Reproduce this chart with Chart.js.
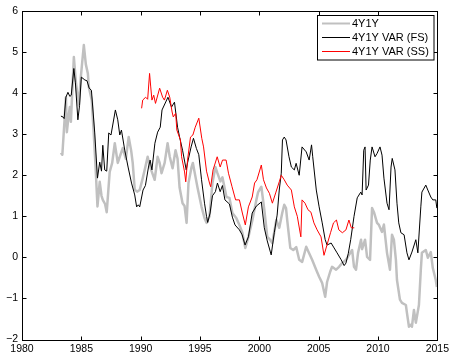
<!DOCTYPE html>
<html>
<head>
<meta charset="utf-8">
<script src="https://cdn.jsdelivr.net/npm/chart.js@4.4.1/dist/chart.umd.min.js"></script>
<style>
  html, body { margin: 0; padding: 0; background: #fff; }
  #wrap { width: 452px; height: 354px; }
</style>
</head>
<body>
<div id="wrap"><canvas id="grafico"></canvas></div>
<script>
// 4Y1Y (gray)
const anosSpot = [1983.28,1983.4,1983.62,1983.7,1983.78,1983.95,1984.03,1984.12,1984.37,1984.54,1984.79,1984.96,
  1985.21,1985.38,1985.55,1985.63,1985.88,1986.05,1986.2,1986.36,1986.55,1986.7,1986.81,1987.0,1987.14,1987.39,
  1987.6,1987.82,1988.07,1988.3,1988.49,1988.75,1988.99,1989.2,1989.33,1989.5,1989.7,1989.92,1990.15,1990.34,
  1990.59,1990.75,1990.92,1991.18,1991.43,1991.6,1991.76,1992.02,1992.27,1992.45,1992.69,1992.94,1993.11,1993.28,
  1993.53,1993.7,1993.87,1994.03,1994.29,1994.4,1994.62,1994.79,1995.13,1995.38,1995.55,1995.8,1996.05,1996.3,
  1996.47,1996.72,1996.89,1997.23,1997.48,1997.73,1998.07,1998.32,1998.57,1998.82,1999.08,1999.41,1999.75,1999.9,
  2000.17,2000.42,2000.67,2000.85,2001.09,2001.26,2001.43,2001.68,2001.93,2002.1,2002.25,2002.35,2002.61,2002.86,
  2003.11,2003.36,2003.61,2003.95,2004.12,2004.45,2004.79,2005.04,2005.29,2005.55,2005.71,2005.97,2006.13,2006.47,
  2006.72,2006.97,2007.31,2007.56,2007.82,2007.98,2008.15,2008.32,2008.57,2008.66,2008.91,2009.08,2009.33,2009.5,
  2009.66,2009.92,2010.08,2010.34,2010.5,2010.76,2011.01,2011.18,2011.34,2011.51,2011.6,2011.85,2012.02,2012.35,
  2012.44,2012.61,2012.77,2012.86,2013.03,2013.19,2013.45,2013.61,2013.7,2014.03,2014.2,2014.45,2014.62,2014.87,2014.96];
const valoresSpot = [2.55,2.5,3.5,3.9,3.05,3.5,3.66,3.3,4.88,4.27,3.7,4.4,
  5.17,4.7,4.48,4.15,3.83,3.0,2.2,1.24,1.84,1.5,1.4,1.3,1.1,2.08,
  2.3,2.78,2.3,2.5,2.66,2.4,2.93,2.6,2.3,1.65,1.6,1.64,1.9,2.13,
  2.45,2.25,2.1,1.89,2.45,2.3,2.05,2.3,2.78,2.45,2.17,2.61,2.4,1.7,
  1.32,1.25,0.84,1.81,2.2,2.3,1.96,1.7,1.23,0.96,0.84,1.0,1.81,2.2,
  2.05,1.85,1.95,1.47,1.45,1.08,0.95,0.79,0.6,0.23,0.5,0.9,1.4,1.59,
  1.72,1.16,0.5,0.45,0.35,0.62,0.91,0.72,1.08,1.28,1.2,0.91,0.23,0.18,
  0.25,-0.06,-0.11,0.26,0.15,-0.06,-0.3,-0.47,-0.62,-0.96,-0.6,-0.35,-0.23,-0.3,
  -0.23,-0.14,-0.06,0.06,0.18,-0.23,-0.3,0.11,0.43,0.2,0.43,0.01,-0.06,1.2,
  1.1,0.84,0.79,0.62,0.8,0.11,-0.3,0.55,0.43,-0.06,-0.55,-1.03,-1.11,-1.16,
  -1.35,-1.69,-1.64,-1.69,-1.28,-1.59,-1.16,-0.3,0.11,0.18,-0.01,0.13,-0.26,-0.55,-0.72];

// 4Y1Y VAR (FS) (black)
const anosFS = [1983.28,1983.45,1983.55,1983.7,1983.87,1984.03,1984.15,1984.37,1984.5,1984.71,1984.85,1985.0,
  1985.3,1985.48,1985.66,1985.85,1986.13,1986.36,1986.55,1986.7,1986.81,1986.97,1987.14,1987.31,1987.5,1987.87,
  1988.07,1988.24,1988.38,1988.66,1988.94,1989.23,1989.5,1989.66,1989.8,1989.92,1990.2,1990.4,1990.66,1990.8,
  1990.95,1991.2,1991.43,1991.65,1991.8,1992.3,1992.6,1992.85,1993.11,1993.28,1993.53,1993.84,1993.95,1994.25,
  1994.45,1994.7,1994.9,1995.13,1995.38,1995.55,1995.65,1995.85,1996.05,1996.3,1996.47,1996.7,1996.89,1997.1,
  1997.48,1997.73,1997.95,1998.32,1998.55,1998.8,1999.08,1999.4,1999.75,2000.17,2000.42,2000.67,2001.0,2001.26,
  2001.5,2001.68,2001.85,2001.95,2002.1,2002.25,2002.5,2002.7,2002.95,2003.1,2003.36,2003.6,2003.95,2004.2,
  2004.4,2004.5,2004.8,2005.04,2005.3,2005.55,2005.71,2006.05,2006.3,2006.55,2006.9,2007.15,2007.3,2007.5,
  2007.7,2007.98,2008.25,2008.55,2008.66,2008.8,2008.91,2009.0,2009.2,2009.35,2009.5,2009.75,2009.92,2010.17,
  2010.34,2010.5,2010.76,2010.93,2011.1,2011.2,2011.43,2011.6,2011.75,2011.93,2012.2,2012.44,2012.61,2012.86,
  2013.19,2013.36,2013.61,2013.7,2014.03,2014.2,2014.45,2014.62,2014.87,2014.96];
const valoresFS = [3.44,3.42,3.38,3.9,4.02,3.92,3.95,4.6,4.25,3.35,3.7,4.39,
  4.32,4.3,4.12,4.07,3.03,1.93,2.32,2.1,2.73,2.13,2.1,3.03,2.98,3.59,
  3.35,2.98,3.1,2.61,2.2,1.81,1.52,1.23,1.28,1.23,1.64,1.75,2.2,2.37,
  2.13,2.78,3.05,3.17,3.59,3.9,3.66,3.78,3.17,2.93,2.61,2.13,2.3,2.69,
  2.9,2.65,2.5,1.89,1.32,1.0,0.85,1.08,1.5,1.6,1.81,1.6,1.75,1.4,
  1.3,0.98,0.79,0.67,0.55,0.3,0.5,1.08,1.25,1.35,0.72,0.4,0.06,0.6,
  1.03,1.64,2.05,2.86,2.93,2.86,2.45,2.2,2.13,2.29,2.0,2.69,2.57,2.37,
  2.74,2.45,1.64,1.23,0.84,0.43,0.3,0.35,0.23,0.11,-0.06,-0.2,-0.14,0.1,
  0.43,1.0,1.45,1.59,1.52,2.61,2.69,1.64,1.76,2.37,2.69,2.45,2.53,2.69,
  2.49,1.93,1.32,1.16,2.2,2.41,2.13,1.32,0.84,0.6,0.55,0.11,-0.06,0.13,
  0.43,0.11,1.23,1.59,1.76,1.64,1.47,1.4,1.4,1.2];

// 4Y1Y VAR (SS) (red)
const anosSS = [1990.08,1990.17,1990.42,1990.59,1990.75,1990.85,1990.95,1991.1,1991.25,1991.6,1991.85,1992.0,
  1992.25,1992.45,1992.65,1992.75,1992.95,1993.05,1993.35,1993.45,1993.7,1993.8,1993.95,1994.2,1994.4,1994.6,
  1994.9,1995.15,1995.3,1995.55,1995.8,1995.9,1996.1,1996.45,1996.7,1996.9,1997.2,1997.4,1997.7,1998.0,
  1998.32,1998.57,1998.82,1999.08,1999.4,1999.6,1999.8,2000.17,2000.35,2000.6,2000.85,2001.1,2001.4,2001.68,
  2001.85,2002.1,2002.35,2002.7,2002.95,2003.2,2003.5,2003.6,2003.85,2004.1,2004.35,2004.6,2004.87,2005.2,
  2005.45,2005.7,2006.0,2006.25,2006.5,2006.7,2007.0,2007.3,2007.55,2007.75,2008.0];
const valoresSS = [3.63,3.83,3.9,3.85,4.48,4.15,3.83,3.95,3.75,4.12,3.9,3.83,
  4.07,3.9,3.54,3.42,3.51,3.1,2.86,2.45,2.08,1.84,2.37,2.93,2.98,3.17,
  3.39,2.9,2.69,2.1,1.81,1.72,2.13,2.45,2.2,2.37,2.37,2.05,1.72,1.4,
  1.4,1.08,0.79,1.23,1.47,1.81,1.89,2.25,1.89,1.69,1.56,1.32,1.59,1.84,
  2.0,1.89,1.76,1.64,1.23,1.0,0.5,1.4,1.32,1.16,1.1,0.84,0.67,0.5,
  0.05,0.3,0.6,0.84,0.91,0.67,0.6,0.67,0.91,0.72,0.72];

const nomes = ["4Y1Y", "4Y1Y VAR (FS)", "4Y1Y VAR (SS)"];
const cores = ["#c0c0c0", "#000000", "#ff0000"];
const ticksAno = [1980, 1985, 1990, 1995, 2000, 2005, 2010, 2015];
const ticksValor = [-2, -1, 0, 1, 2, 3, 4, 5, 6];

const fonte = "'Liberation Sans', Arial, Helvetica, sans-serif";

function montarPontos(anos, valores) {
    return anos.map((a, i) => ({ x: a, y: valores[i] }));
}

// moldura com ticks para dentro (estilo matlab) + legenda
const moldura = {
    id: "moldura",
    afterDatasetsDraw(chart) {
        const { ctx, chartArea: a, scales } = chart;
        ctx.save();
        ctx.strokeStyle = "#000";
        ctx.lineWidth = 1;
        const L = Math.round(a.left) + 0.5, R = Math.round(a.right) + 0.5;
        const T = Math.round(a.top) + 0.5, B = Math.round(a.bottom) + 0.5;
        ctx.strokeRect(L, T, R - L, B - T);
        ctx.beginPath();
        ticksAno.forEach(v => {
            const x = Math.round(scales.x.getPixelForValue(v)) + 0.5;
            ctx.moveTo(x, B); ctx.lineTo(x, B - 4);
            ctx.moveTo(x, T); ctx.lineTo(x, T + 4);
        });
        ticksValor.forEach(v => {
            const y = Math.round(scales.y.getPixelForValue(v)) + 0.5;
            ctx.moveTo(L, y); ctx.lineTo(L + 4, y);
            ctx.moveTo(R, y); ctx.lineTo(R - 4, y);
        });
        ctx.stroke();

        // legenda
        const lx = 317.5, ly = 15.5, lw = 116.5, lh = 44.5;
        ctx.fillStyle = "#fff";
        ctx.fillRect(lx, ly, lw, lh);
        ctx.strokeStyle = "#000";
        ctx.strokeRect(lx, ly, lw, lh);
        ctx.font = "11px " + fonte;
        ctx.textBaseline = "middle";
        ctx.textAlign = "left";
        const linhasY = [23.5, 37.5, 51.5];
        nomes.forEach((nome, i) => {
            ctx.beginPath();
            ctx.strokeStyle = cores[i];
            ctx.lineWidth = i === 0 ? 2 : 1;
            ctx.moveTo(322, linhasY[i]);
            ctx.lineTo(350, linhasY[i]);
            ctx.stroke();
            ctx.fillStyle = "#000";
            ctx.fillText(nome, 352, linhasY[i] + 0.5);
        });
        ctx.restore();
    }
};

new Chart(document.getElementById("grafico"), {
    type: "line",
    data: {
        datasets: [
            {
                label: nomes[0],
                data: montarPontos(anosSpot, valoresSpot),
                borderColor: cores[0],
                borderWidth: 2.5,
                order: 2
            },
            {
                label: nomes[1],
                data: montarPontos(anosFS, valoresFS),
                borderColor: cores[1],
                borderWidth: 1,
                order: 1
            },
            {
                label: nomes[2],
                data: montarPontos(anosSS, valoresSS),
                borderColor: cores[2],
                borderWidth: 1,
                order: 0
            }
        ]
    },
    options: {
        responsive: true,
        maintainAspectRatio: false,
        animation: false,
        elements: {
            point: { radius: 0 },
            line: { tension: 0, borderJoinStyle: "round" }
        },
        layout: { padding: { top: 11, right: 14, left: 0, bottom: 0 } },
        plugins: {
            legend: { display: false },
            tooltip: { enabled: false }
        },
        scales: {
            x: {
                type: "linear",
                min: 1980,
                max: 2015,
                afterFit: s => { s.height = 14.5; },
                afterBuildTicks: s => { s.ticks = ticksAno.map(v => ({ value: v })); },
                grid: { display: false, drawTicks: false },
                border: { display: false },
                ticks: {
                    padding: 3,
                    color: "#000",
                    font: { family: fonte, size: 10.5 },
                    maxRotation: 0,
                    autoSkip: false,
                    callback: v => String(v)
                }
            },
            y: {
                min: -2,
                max: 6,
                afterFit: s => { s.width = 22; },
                afterBuildTicks: s => { s.ticks = ticksValor.map(v => ({ value: v })); },
                grid: { display: false, drawTicks: false },
                border: { display: false },
                ticks: {
                    padding: 4,
                    color: "#000",
                    font: { family: fonte, size: 10.5 },
                    callback: v => v < 0 ? "\u2212" + Math.abs(v) : String(v)
                }
            }
        }
    },
    plugins: [moldura]
});
</script>
</body>
</html>
